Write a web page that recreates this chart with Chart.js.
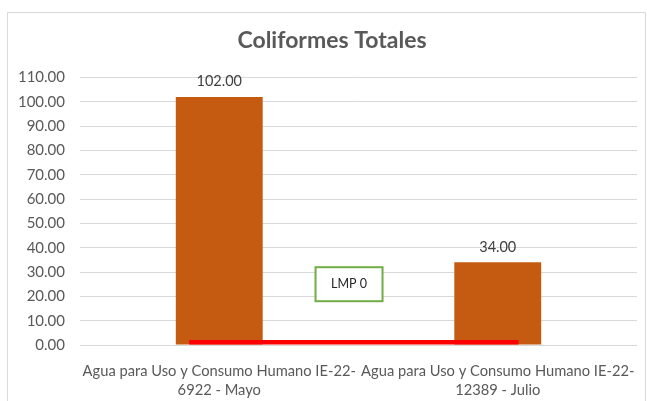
<!DOCTYPE html>
<html>
<head>
<meta charset="utf-8">
<script src="https://cdn.jsdelivr.net/npm/chart.js@4/dist/chart.umd.min.js"></script>
<style>
html,body{margin:0;padding:0;background:#fff;}
#wrap{width:647px;height:401px;position:relative;}
</style>
</head>
<body>
<div id="wrap"><canvas id="c" width="647" height="401"></canvas></div>
<script>
const categories = [
  ["Agua para Uso y Consumo Humano IE-22-", "6922 - Mayo"],
  ["Agua para Uso y Consumo Humano IE-22-", "12389 - Julio"]
];
const coliformes = [102, 34];
const lmpValue = 0;
const lmpLabel = "LMP 0";
const yTicksMax = 110;
const yTickStep = 10;
const chartTitle = "Coliformes Totales";

const FONT = "Lato, 'Liberation Sans', sans-serif";
// placement of the LMP decoration, in category / value units
const LMP_SPAN = [-0.108, 1.075];
const LMP_BOX = { cat: 0.466, val: 25, w: 67, h: 34 };

const framePlugin = {
  id: 'frame',
  beforeDraw(chart) {
    const ctx = chart.ctx;
    ctx.save();
    ctx.fillStyle = '#ffffff';
    ctx.fillRect(0, 0, chart.width, chart.height);
    ctx.strokeStyle = '#d9d9d9';
    ctx.lineWidth = 1;
    ctx.beginPath();
    ctx.moveTo(7.5, chart.height + 5);
    ctx.lineTo(7.5, 12.5);
    ctx.lineTo(645.5, 12.5);
    ctx.lineTo(645.5, chart.height + 5);
    ctx.stroke();
    // title
    ctx.fillStyle = '#595959';
    ctx.font = "bold 23px " + FONT;
    ctx.textAlign = 'center';
    ctx.textBaseline = 'middle';
    ctx.fillText(chartTitle, 332, 41);
    ctx.restore();
  }
};

const labelsPlugin = {
  id: 'barLabels',
  afterDatasetsDraw(chart) {
    const ctx = chart.ctx;
    const meta = chart.getDatasetMeta(0);
    const xs = chart.scales.x;
    const ys = chart.scales.y;
    ctx.save();
    // LMP line
    const yl = ys.getPixelForValue(lmpValue);
    ctx.fillStyle = '#FF0000';
    const x0 = xs.getPixelForValue(LMP_SPAN[0]);
    const x1 = xs.getPixelForValue(LMP_SPAN[1]);
    ctx.fillRect(x0, yl - 5, x1 - x0, 4.5);
    // value labels
    ctx.font = "14.5px " + FONT;
    ctx.fillStyle = '#404040';
    ctx.textAlign = 'center';
    ctx.textBaseline = 'bottom';
    meta.data.forEach((bar, i) => {
      ctx.fillText(coliformes[i].toFixed(2), bar.x, bar.y - 8);
    });
    // LMP label box
    const cx = xs.getPixelForValue(LMP_BOX.cat);
    const cy = ys.getPixelForValue(LMP_BOX.val);
    const w = LMP_BOX.w, h = LMP_BOX.h;
    ctx.fillStyle = '#ffffff';
    ctx.fillRect(cx - w / 2, cy - h / 2, w, h);
    ctx.strokeStyle = '#70AD47';
    ctx.lineWidth = 2;
    ctx.strokeRect(cx - w / 2, cy - h / 2, w, h);
    ctx.fillStyle = '#262626';
    ctx.font = "12.5px " + FONT;
    ctx.textBaseline = 'middle';
    ctx.fillText(lmpLabel, cx, cy);
    ctx.restore();
  }
};

new Chart(document.getElementById('c'), {
  type: 'bar',
  data: {
    labels: categories,
    datasets: [
      {
        label: 'Coliformes',
        data: coliformes,
        backgroundColor: '#C55A11',
        borderWidth: 0,
        barPercentage: 0.312,
        categoryPercentage: 1.0
      }
    ]
  },
  options: {
    responsive: false,
    animation: false,
    layout: { padding: { left: 0, right: 10, top: 77.5, bottom: 0 } },
    plugins: {
      legend: { display: false },
      tooltip: { enabled: false },
      title: { display: false }
    },
    scales: {
      x: {
        type: 'category',
        offset: true,
        grid: { display: false },
        border: { display: false },
        ticks: {
          color: '#595959',
          font: { family: FONT, size: 14.7, lineHeight: 1.3 },
          maxRotation: 0,
          autoSkip: false,
          padding: 9
        },
        afterFit(s) { s.height = 56; }
      },
      y: {
        min: 0,
        max: yTicksMax,
        grid: { color: '#d9d9d9', drawTicks: false },
        border: { display: false },
        ticks: {
          stepSize: yTickStep,
          color: '#595959',
          font: { family: FONT, size: 15 },
          padding: 15,
          callback: v => v.toFixed(2)
        },
        afterFit(s) { s.width = 80; }
      }
    }
  },
  plugins: [framePlugin, labelsPlugin]
});
</script>
</body>
</html>
